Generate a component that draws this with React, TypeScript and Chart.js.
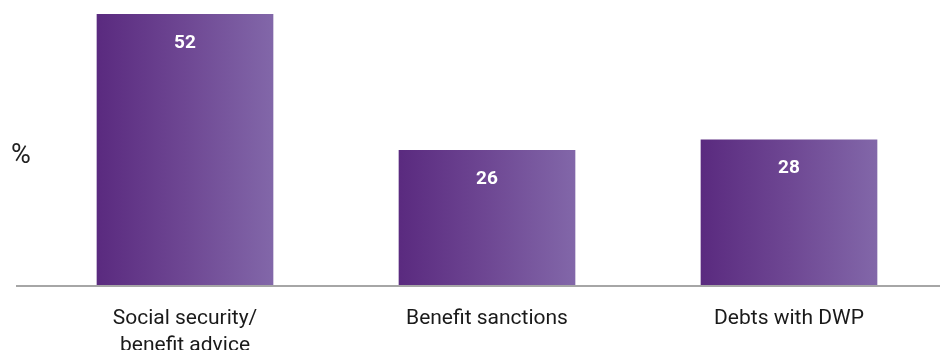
import React, { useEffect, useRef } from "react";
import { Chart, registerables } from "chart.js";

Chart.register(...registerables);

const categories: (string | string[])[] = [
  ["Social security/", "benefit advice"],
  "Benefit sanctions",
  "Debts with DWP",
];
const values: number[] = [52, 26, 28];
const axisTitle = "%";

const gradientLeft = "#5a2a7f";
const gradientMid = "#6e4793";
const gradientRight = "#8267a9";
const BAR_PCT = 0.585;

function barGradient(context: any) {
  const chart = context.chart;
  const xScale = chart.scales && chart.scales.x;
  if (!xScale || !chart.chartArea || context.dataIndex === undefined) return gradientMid;
  const cx = xScale.getPixelForValue(context.dataIndex);
  const w = (xScale.width / categories.length) * BAR_PCT;
  const g = chart.ctx.createLinearGradient(cx - w / 2, 0, cx + w / 2, 0);
  g.addColorStop(0, gradientLeft);
  g.addColorStop(0.5, gradientMid);
  g.addColorStop(1, gradientRight);
  return g;
}

const decorPlugin = {
  id: "decor",
  afterDatasetsDraw(chart: any) {
    const ctx = chart.ctx;
    const meta = chart.getDatasetMeta(0);
    ctx.save();
    ctx.fillStyle = "#ffffff";
    ctx.font = "bold 19px Roboto";
    ctx.textAlign = "center";
    ctx.textBaseline = "middle";
    meta.data.forEach((bar: any, i: number) => {
      ctx.fillText(String(values[i]), bar.x, bar.y + 29);
    });
    ctx.restore();
  },
  afterDraw(chart: any) {
    const ctx = chart.ctx;
    const area = chart.chartArea;
    ctx.save();
    ctx.strokeStyle = "#a6a6a6";
    ctx.lineWidth = 2;
    ctx.beginPath();
    ctx.moveTo(16, area.bottom);
    ctx.lineTo(chart.width, area.bottom);
    ctx.stroke();
    ctx.fillStyle = "#222222";
    ctx.font = "27px Roboto";
    ctx.textAlign = "center";
    ctx.textBaseline = "middle";
    ctx.fillText(axisTitle, 21, 156);
    ctx.restore();
  },
};

export default function App() {
  const ref = useRef<HTMLCanvasElement>(null);
  useEffect(() => {
    if (!ref.current) return;
    const chart = new Chart(ref.current, {
      type: "bar",
      data: {
        labels: categories,
        datasets: [
          {
            data: values,
            backgroundColor: barGradient,
            barPercentage: BAR_PCT,
            categoryPercentage: 1,
          },
        ],
      },
      options: {
        animation: false,
        responsive: true,
        maintainAspectRatio: false,
        layout: { padding: { top: 14, left: 34, right: 0, bottom: 0 } },
        plugins: {
          legend: { display: false },
          tooltip: { enabled: false },
        },
        scales: {
          x: {
            grid: { display: false, drawTicks: false },
            border: { display: false },
            ticks: {
              color: "#1a1a1a",
              font: { family: "Roboto", size: 21, lineHeight: 1.29 },
              padding: 19,
              maxRotation: 0,
              autoSkip: false,
            },
            afterFit: (scale: any) => {
              scale.height = 64;
            },
          },
          y: {
            display: false,
            min: 0,
            max: 52,
          },
        },
      },
      plugins: [decorPlugin],
    });
    return () => chart.destroy();
  }, []);
  return (
    <div style={{ position: "fixed", left: 0, top: 0, width: 940, height: 350, background: "#fff" }}>
      <canvas ref={ref} />
    </div>
  );
}
